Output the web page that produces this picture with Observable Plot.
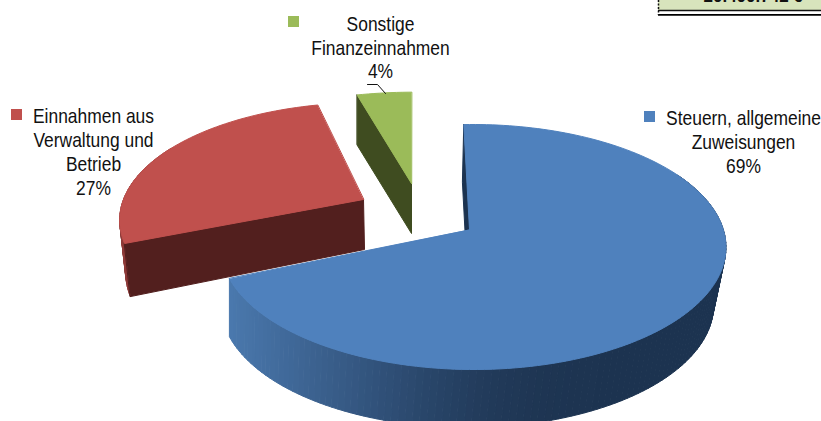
<!DOCTYPE html>
<html><head><meta charset="utf-8">
<style>html,body{margin:0;padding:0;background:#fff;overflow:hidden}svg{display:block}</style>
<script src="https://cdn.jsdelivr.net/npm/d3@7"></script>
<script src="https://cdn.jsdelivr.net/npm/@observablehq/plot@0.6"></script>
</head><body><div id="chart"></div>
<script>
// Data
const categories = ["Steuern, allgemeine\nZuweisungen", "Einnahmen aus\nVerwaltung und\nBetrieb", "Sonstige\nFinanzeinnahmen"];
const shares = [69, 27, 4];
const faceColors = ["#4f81bd", "#c0504d", "#9bbb59"];
const cutColors = ["#1c3350", "#521f1e", "#3f4c20"];
const boxText = "20.400.742 €";

// Layout of the 3D pie (projection of a tilted circle, one entry per slice)
const W = 821, H = 421;
const view = {A: 250, B: 120, k: 1 / 7, m: 0.015, start: -1.5};
const sliceLayout = [
  {cx: 469, cy: 229, spin: 0,   sx: 1,   sy: 1,    arcDy: 0, depth: 58, cutDx: -1.5, wdx: -6, wsx: .975, wsy: 1,    rim: x => d3.interpolateRgbBasis(["#4a78ad", "#33557f", "#1e3552", "#1c3350"])(Math.max(0, Math.min(1, (x - 230) / 400)))},
  {cx: 363, cy: 199, spin: 3.5, sx: .98, sy: .96,  arcDy: 4, depth: 50, cutDx: 1,    wdx: 1,  wsx: .98,  wsy: 1.07, rim: () => "#8e3b39"},
  {cx: 411, cy: 183, spin: 1.5, sx: 1,   sy: .87,  arcDy: 0, depth: 50, cutDx: 0,    wdx: 0,  wsx: 1,    wsy: 1,    rim: () => "#3f4c20"}
];
const labelLayout = [
  {x: 743, y: 107.5, kx: 644, ky: 111},
  {x: 93,  y: 105.5, kx: 11,  ky: 109},
  {x: 380, y: 13,    kx: 288, ky: 16}
];
const keySize = 11;
const textSqueeze = 0.85;

// Geometry from the shares
const rad = d => d * Math.PI / 180;
const proj = t => {
  const X = Math.sin(rad(t)), Y = -Math.cos(rad(t));
  const w = 1 - view.k * Y - view.m * X;
  return [view.A * X / w, view.B * Y / w];
};
const polys = [];
let pid = 0;
const poly = (pts, fill) => { pid++; pts.forEach(([x, y]) => polys.push({id: pid, x, y, fill})); };
let cum = view.start;
const slices = shares.map((s, i) => {
  const a = cum + sliceLayout[i].spin, b = a + s * 3.6;
  cum += s * 3.6;
  return {i, a, b};
});
const drawSlice = ({i, a, b}) => {
  const L = sliceLayout[i];
  const top = t => { const [dx, dy] = proj(t); return [L.cx + dx * L.sx, L.cy + dy * L.sy + L.arcDy]; };
  const low = (t, off) => { const [dx, dy] = proj(t); return [L.cx + off + dx * L.sx * L.wsx, L.cy + L.depth + (dy * L.sy + L.arcDy) * L.wsy]; };
  const step = 1.5, ang = d3.range(a, b, step).concat([b]);
  // outer rim: only the part that faces the viewer
  for (let j = 0; j < ang.length - 1; j++) {
    if (Math.cos(rad(ang[j])) > 0.5) continue;
    const p = top(ang[j]), q = top(ang[j + 1]);
    poly([p, q, low(ang[j + 1], L.wdx), low(ang[j], L.wdx)], L.rim((p[0] + q[0]) / 2));
  }
  // cut face at the start edge
  poly([top(a), [L.cx, L.cy], [L.cx + L.cutDx, L.cy + L.depth], low(a, L.cutDx)], cutColors[i]);
  // top face
  poly([[L.cx, L.cy], ...ang.map(top)], faceColors[i]);
};
slices.forEach(drawSlice);

const labels = categories.map((c, i) => ({text: `${c}\n${shares[i]}%`, ...labelLayout[i], fill: faceColors[i]}));
const leader = [{x: 367, y: 84}, {x: 377, y: 84}, {x: 385, y: 93}];

const plot = Plot.plot({
  width: W, height: H, margin: 0,
  x: {domain: [0, W], range: [0, W], axis: null},
  y: {domain: [0, H], range: [0, H], axis: null},
  color: {type: "identity"},
  marks: [
    Plot.rect([{x1: 658, x2: 830, y1: -5, y2: 10}], {x1: "x1", x2: "x2", y1: "y1", y2: "y2", fill: "#d8e4bc"}),
    Plot.text([boxText], {x: 703, y: 1, text: d => d, lineAnchor: "bottom", textAnchor: "start", fontFamily: "Liberation Sans", fontWeight: "bold", fontSize: 17, fill: "#111"}),
    Plot.ruleY([10], {x1: 658, x2: W, stroke: "#111", strokeWidth: 1.4}),
    Plot.ruleY([14.3], {x1: 658, x2: W, stroke: "#000", strokeWidth: 1.8}),
    Plot.ruleX([658], {y1: 0, y2: 15, stroke: "#111", strokeWidth: 1.5, strokeDasharray: "2,1.5"}),
    Plot.line(polys, {x: "x", y: "y", z: "id", fill: "fill", stroke: "fill", strokeWidth: 1, curve: "linear-closed"}),
    Plot.line(leader, {x: "x", y: "y", stroke: "#111", strokeWidth: 1}),
    Plot.rect(labels, {x1: "kx", x2: d => d.kx + keySize, y1: "ky", y2: d => d.ky + keySize, fill: "fill"}),
    Plot.text(labels, {x: "x", y: "y", text: "text", lineAnchor: "top", textAnchor: "middle", lineHeight: 1.17, fontSize: 20.5, fontFamily: "'Liberation Sans',sans-serif", fill: "#111", className: "pie-label"})
  ]
});
plot.querySelectorAll(".pie-label text").forEach(t => t.setAttribute("transform", `${t.getAttribute("transform") || ""} scale(${textSqueeze},1)`));
document.getElementById("chart").append(plot);
</script>
</body></html>
